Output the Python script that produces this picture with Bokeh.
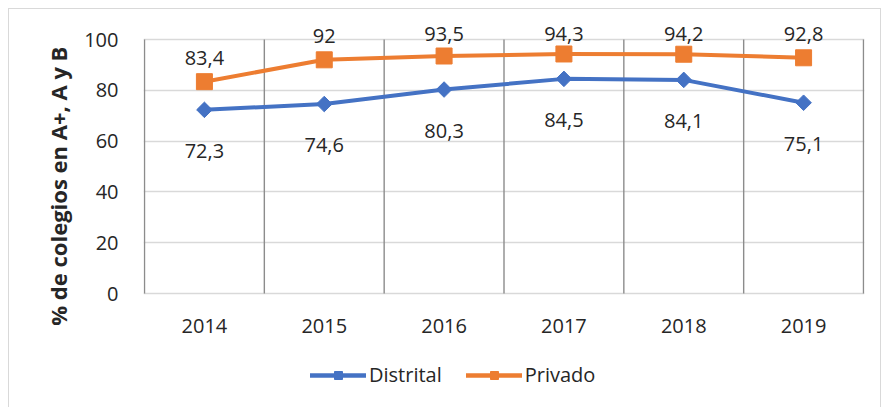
import numpy as np
from bokeh.plotting import figure
from bokeh.models import (FixedTicker, Legend, LegendItem, Range1d,
                          ColumnDataSource, LabelSet)
from bokeh.core.properties import value
from bokeh.embed import file_html
from bokeh.resources import INLINE

years = ["2014", "2015", "2016", "2017", "2018", "2019"]
distrital = [72.3, 74.6, 80.3, 84.5, 84.1, 75.1]
privado = [83.4, 92.0, 93.5, 94.3, 94.2, 92.8]
y_ticks = [0, 20, 40, 60, 80, 100]
y_title = "% de colegios en A+, A y B"

FONT = "Open Sans"
TXT = "#262626"
BLUE = "#4472C4"
ORANGE = "#ED7D31"
FS = "20px"

def fmt(v):
    return f"{v:g}".replace(".", ",")

n = len(years)
xc = np.arange(n) + 0.5
src_d = ColumnDataSource(dict(x=xc, y=distrital, t=[fmt(v) for v in distrital]))
src_p = ColumnDataSource(dict(x=xc, y=privado, t=[fmt(v) for v in privado],
                              ly=np.minimum(np.array(privado) + 9.5, 102.2)))
src_x = ColumnDataSource(dict(x=xc, y=np.zeros(n), t=years))
src_g = ColumnDataSource(dict(x=np.arange(n + 1), y0=np.zeros(n + 1),
                              y1=np.full(n + 1, y_ticks[-1])))

# layout geometry (pixels inside the bordered canvas)
W, H = 873, 399
LEFT, RIGHT = 134, 18
PX_PER_UNIT = 2.54          # vertical scale of the value axis
TOP_GAP, BOTTOM_GAP = 30, 115  # canvas edge to 100 / to 0
pad = 1.0 / ((W - LEFT - RIGHT - 2) / n)

p = figure(width=W, height=H, output_backend="svg", toolbar_location=None,
           x_axis_location=None,
           x_range=Range1d(-pad, n + pad),
           y_range=Range1d(-BOTTOM_GAP / PX_PER_UNIT, 100 + TOP_GAP / PX_PER_UNIT),
           min_border_left=LEFT, min_border_right=RIGHT, min_border_top=0,
           min_border_bottom=0)
p.styles = {"margin-left": "8px", "margin-top": "8px",
            "border-left": "1px solid #d9d9d9", "border-top": "1px solid #d9d9d9",
            "border-right": "1px solid #d9d9d9"}
p.outline_line_color = None
p.xgrid.visible = False

# value axis (title padded at its start so it sits centred on the chart body)
p.yaxis.ticker = FixedTicker(ticks=y_ticks)
p.yaxis.major_tick_line_color = None
p.yaxis.minor_tick_line_color = None
p.yaxis.axis_line_color = None
p.yaxis.major_label_standoff = 19
p.yaxis.axis_label = "\u00a0" * 8 + y_title
p.yaxis.axis_label_standoff = 8
p.yaxis.axis_label_text_font_style = "bold"
p.yaxis.axis_label_text_font_size = "22px"
p.yaxis.axis_label_text_font = FONT
p.yaxis.axis_label_text_color = TXT
p.yaxis.major_label_text_font = FONT
p.yaxis.major_label_text_font_size = FS
p.yaxis.major_label_text_color = TXT

# grids
p.ygrid.ticker = FixedTicker(ticks=y_ticks)
p.ygrid.grid_line_color = "#d9d9d9"
p.ygrid.grid_line_width = 1.5
p.segment(x0="x", y0="y0", x1="x", y1="y1", source=src_g,
          line_color="#8c8c8c", line_width=1.4)

# category labels
p.add_layout(LabelSet(x="x", y="y", text="t", source=src_x, y_offset=-32,
                      text_align="center", text_baseline="middle",
                      text_font=value(FONT), text_font_size=FS,
                      text_color=TXT))

# series
p.line("x", "y", source=src_d, line_color=BLUE, line_width=4, line_join="round")
p.scatter("x", "y", source=src_d, marker="square", angle=np.pi / 4, size=11,
          fill_color=BLUE, line_color=BLUE)
p.line("x", "y", source=src_p, line_color=ORANGE, line_width=4, line_join="round")
p.scatter("x", "y", source=src_p, marker="square", size=16,
          fill_color=ORANGE, line_color=ORANGE)

# data labels
p.add_layout(LabelSet(x="x", y="y", text="t", source=src_d, y_offset=-41,
                      text_align="center", text_baseline="middle",
                      text_font=value(FONT), text_font_size=FS,
                      text_color=TXT))
p.add_layout(LabelSet(x="x", y="ly", text="t", source=src_p,
                      text_align="center", text_baseline="middle",
                      text_font=value(FONT), text_font_size=FS,
                      text_color=TXT))

# legend proxies (single NaN point, never drawn in the plot)
proxy = ColumnDataSource(dict(x=[np.nan], y=[np.nan]))
ld = p.line("x", "y", source=proxy, line_color=BLUE, line_width=4.5, line_cap="round")
lds = p.scatter("x", "y", source=proxy, marker="square", angle=np.pi / 4, size=8,
                fill_color=BLUE, line_color=BLUE)
lp = p.line("x", "y", source=proxy, line_color=ORANGE, line_width=4.5, line_cap="round")
lps = p.scatter("x", "y", source=proxy, marker="square", size=11,
                fill_color=ORANGE, line_color=ORANGE)
legend = Legend(items=[LegendItem(label="Distrital", renderers=[ld, lds]),
                       LegendItem(label="Privado", renderers=[lp, lps])],
                orientation="horizontal", location=(167, 20),
                glyph_width=56, glyph_height=20, label_height=20,
                label_standoff=3, spacing=24, padding=0, margin=0,
                label_text_font=FONT, label_text_font_size=FS,
                label_text_color=TXT, border_line_color=None,
                background_fill_alpha=0)
p.add_layout(legend)

open("out.html", "w").write(file_html(p, INLINE))
